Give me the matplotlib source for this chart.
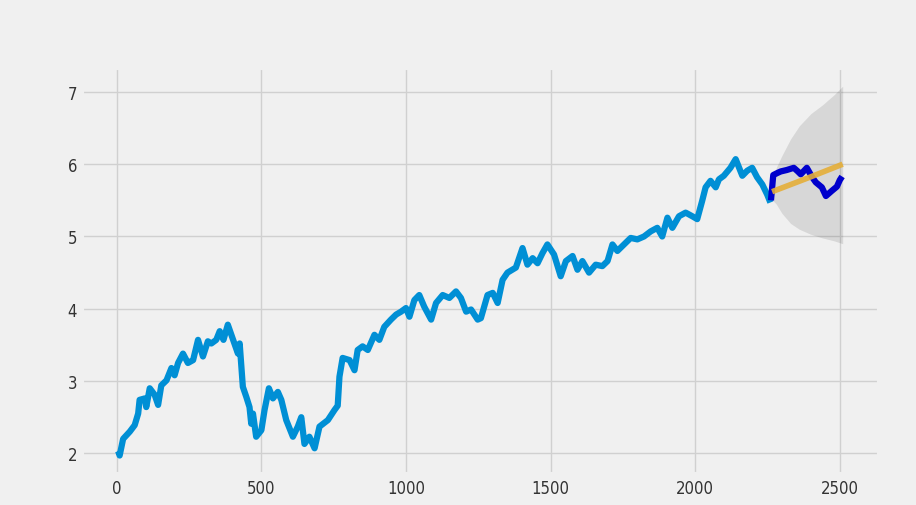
import matplotlib
matplotlib.use('Agg')
import matplotlib.pyplot as plt

plt.style.use('fivethirtyeight')

# training series
train_x = [5, 10, 22, 45, 62, 74, 79, 97, 102, 114, 131, 143, 154, 172, 189, 200,
           212, 229, 246, 264, 281, 298, 315, 327, 344, 356, 369, 384, 407, 419,
           425, 436, 448, 459, 465, 471, 482, 500, 511, 526, 540, 557, 569, 586,
           609, 626, 638, 649, 666, 684, 701, 730, 753, 764, 770, 781, 805, 822,
           833, 850, 868, 891, 908, 925, 948, 966, 983, 1000, 1012, 1029, 1046,
           1063, 1087, 1104, 1127, 1150, 1173, 1190, 1208, 1225, 1248, 1259, 1282,
           1300, 1317, 1334, 1351, 1380, 1403, 1420, 1438, 1455, 1472, 1489, 1512,
           1535, 1553, 1576, 1593, 1610, 1633, 1656, 1679, 1697, 1714, 1731, 1754,
           1777, 1800, 1823, 1846, 1869, 1886, 1904, 1921, 1944, 1967, 1990, 2007,
           2024, 2036, 2053, 2071, 2082, 2099, 2122, 2140, 2163, 2180, 2197, 2214,
           2232, 2249, 2260]
train_y = [2.03, 1.97, 2.20, 2.30, 2.39, 2.55, 2.74, 2.76, 2.64, 2.90, 2.81, 2.67,
           2.94, 3.01, 3.18, 3.08, 3.25, 3.38, 3.25, 3.29, 3.57, 3.34, 3.55, 3.52,
           3.57, 3.69, 3.57, 3.78, 3.52, 3.38, 3.52, 2.92, 2.78, 2.64, 2.41, 2.55,
           2.23, 2.32, 2.60, 2.90, 2.76, 2.85, 2.74, 2.46, 2.23, 2.37, 2.50, 2.13,
           2.23, 2.07, 2.37, 2.46, 2.60, 2.66, 3.06, 3.32, 3.29, 3.15, 3.43, 3.48,
           3.43, 3.64, 3.57, 3.75, 3.85, 3.92, 3.96, 4.01, 3.89, 4.12, 4.19, 4.03,
           3.85, 4.08, 4.19, 4.15, 4.24, 4.15, 3.96, 3.99, 3.85, 3.87, 4.19, 4.22,
           4.08, 4.40, 4.50, 4.57, 4.84, 4.61, 4.70, 4.63, 4.77, 4.89, 4.75, 4.45,
           4.66, 4.73, 4.54, 4.66, 4.50, 4.61, 4.59, 4.66, 4.89, 4.80, 4.89, 4.98,
           4.96, 5.00, 5.07, 5.12, 5.00, 5.26, 5.12, 5.28, 5.33, 5.28, 5.24, 5.49,
           5.68, 5.77, 5.68, 5.79, 5.84, 5.95, 6.07, 5.84, 5.91, 5.95, 5.82, 5.72,
           5.58, 5.47]

# test series
test_x = [2262, 2270, 2285, 2296, 2317, 2341, 2355, 2365, 2386, 2403, 2417, 2438,
          2452, 2472, 2490, 2500, 2508]
test_y = [5.50, 5.85, 5.88, 5.90, 5.92, 5.95, 5.90, 5.86, 5.95, 5.83, 5.75, 5.68,
          5.56, 5.63, 5.69, 5.78, 5.83]

# forecast and confidence band
fc_x = [2266, 2390, 2510]
fc_y = [5.62, 5.81, 6.00]
ci_x = [2262, 2268, 2280, 2300, 2330, 2360, 2400, 2440, 2480, 2510]
ci_upper = [5.55, 5.78, 5.95, 6.12, 6.35, 6.53, 6.70, 6.82, 6.96, 7.08]
ci_lower = [5.55, 5.50, 5.45, 5.32, 5.18, 5.10, 5.03, 4.98, 4.94, 4.90]

fig = plt.figure(figsize=(9.16, 5.06), dpi=100)
fig.patch.set_facecolor('#f0f0f0')
ax = fig.add_axes([0.0895, 0.0613, 0.870, 0.803])
ax.set_facecolor('#f0f0f0')

ax.plot(train_x, train_y, color='#008fd5', lw=4.5)
ax.plot(test_x, test_y, color='#0000cc', lw=4.5)
ax.plot(fc_x, fc_y, color='#e5ae38', lw=4, alpha=0.9)
ax.fill_between(ci_x, ci_lower, ci_upper, color='k', alpha=0.1, lw=0)

ax.set_xticks([0, 500, 1000, 1500, 2000, 2500])
ax.set_yticks([2, 3, 4, 5, 6, 7])
ax.grid(color='#d0d0d0', lw=1)
ax.tick_params(labelsize=12, labelcolor='#333333')
for lab in ax.get_xticklabels() + ax.get_yticklabels():
    lab.set_fontstretch('condensed')

fig.savefig('out.png', dpi=100, facecolor=fig.get_facecolor())
